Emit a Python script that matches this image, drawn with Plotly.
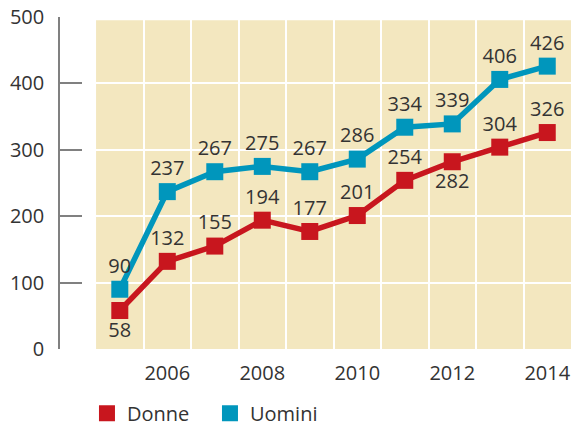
import plotly.graph_objects as go

years = [2005, 2006, 2007, 2008, 2009, 2010, 2011, 2012, 2013, 2014]
donne = [58, 132, 155, 194, 177, 201, 254, 282, 304, 326]
uomini = [90, 237, 267, 275, 267, 286, 334, 339, 406, 426]
donne_pos = ["bottom center", "top center", "top center", "top center", "top center",
             "top center", "top center", "bottom center", "top center", "top center"]
uomini_pos = ["top center"] * 10
x_ticks = [2006, 2008, 2010, 2012, 2014]
y_ticks = [0, 100, 200, 300, 400, 500]

RED = "#C8161E"
BLUE = "#0096BC"
BEIGE = "#F3E7BF"
TXT = "#333333"
FONT = "Open Sans"

fig = go.Figure()
fig.add_trace(go.Scatter(
    x=years, y=donne, mode="lines+markers+text", text=[str(v) for v in donne],
    textposition=donne_pos, textfont=dict(size=20, color=TXT, family=FONT),
    line=dict(color=RED, width=5.5), marker=dict(symbol="square", size=17, color=RED),
    showlegend=False, cliponaxis=False, hoverinfo="skip"))
fig.add_trace(go.Scatter(
    x=years, y=uomini, mode="lines+markers+text", text=[str(v) for v in uomini],
    textposition=uomini_pos, textfont=dict(size=20, color=TXT, family=FONT),
    line=dict(color=BLUE, width=5.5), marker=dict(symbol="square", size=17, color=BLUE),
    showlegend=False, cliponaxis=False, hoverinfo="skip"))
# legend entries
fig.add_trace(go.Scatter(x=[None], y=[None], mode="markers", name="Donne",
                         marker=dict(symbol="square", size=19, color=RED)))
fig.add_trace(go.Scatter(x=[None], y=[None], mode="markers", name="Uomini",
                         marker=dict(symbol="square", size=19, color=BLUE)))

fig.add_shape(type="rect", xref="x", yref="y", x0=2004.5, x1=2014.5, y0=0, y1=495,
              fillcolor=BEIGE, line=dict(width=0), layer="below")

fig.update_layout(
    width=576, height=426,
    margin=dict(l=60, r=4.5, t=17, b=77, autoexpand=False),
    paper_bgcolor="white", plot_bgcolor="white",
    font=dict(family=FONT, size=20, color=TXT),
    legend=dict(orientation="h", x=(87 - 60) / 511.5, xanchor="left",
                y=-0.135, yanchor="top", font=dict(size=20, color=TXT, family=FONT),
                entrywidth=78, entrywidthmode="pixels", itemsizing="trace",
                bgcolor="rgba(0,0,0,0)"),
    xaxis=dict(range=[2003.741, 2014.5], tickvals=x_ticks, showgrid=False,
               showline=False, zeroline=False, ticks="", ticklabelstandoff=10,
               tickfont=dict(size=20, color=TXT, family=FONT),
               minor=dict(tickvals=[y + 0.5 for y in years[:-1]], showgrid=True,
                          gridcolor="white", gridwidth=2, ticks="")),
    yaxis=dict(range=[0, 500], tickvals=y_ticks, showgrid=True, gridcolor="white",
               gridwidth=2, zeroline=False, showline=True, linecolor="#808080",
               linewidth=1.5, ticks="inside", ticklen=22, tickcolor="#808080",
               tickwidth=1.5, ticklabelstandoff=10,
               tickfont=dict(size=20, color=TXT, family=FONT)),
)

fig.write_html("out.html", config={"displayModeBar": False},
               post_script="document.body.style.margin='0';")
